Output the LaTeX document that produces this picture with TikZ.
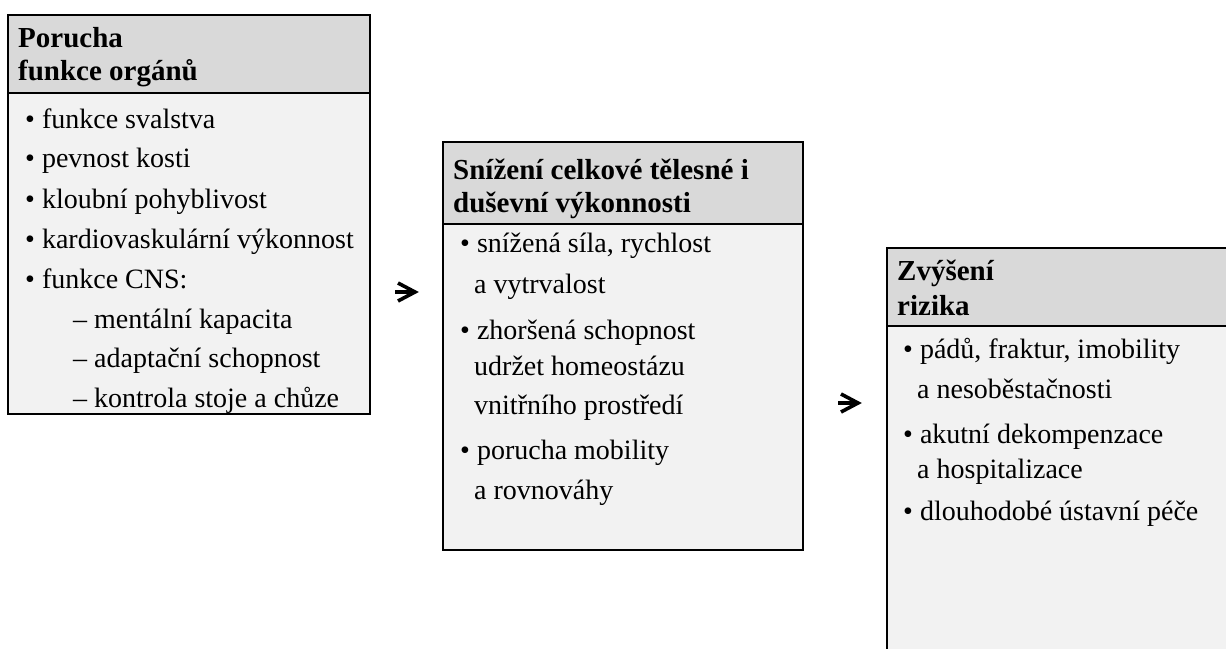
\documentclass[tikz,border=0pt]{standalone}
\usepackage{fontspec}
\setmainfont{Liberation Serif}
\definecolor{headgray}{HTML}{D9D9D9}
\definecolor{bodygray}{HTML}{F2F2F2}
\tikzset{
  headfill/.style={fill=headgray, draw=black, line width=2pt},
  bodyfill/.style={fill=bodygray, draw=black, line width=2pt},
  txt/.style={anchor=base west, inner sep=0pt, font=\fontsize{28}{33}\selectfont},
  headtxt/.style={anchor=base west, inner sep=0pt, font=\fontsize{29}{33}\selectfont\bfseries},
  glypharrow/.style={line width=3.6pt, line join=miter, line cap=butt}
}
\begin{document}
\begin{tikzpicture}[x=1pt,y=-1pt]
\clip (0,0) rectangle (1226,648);
\fill[white] (0,0) rectangle (1226,648);
% box 1
\draw[bodyfill] (8,93) rectangle (370,414);
\draw[headfill] (8,15) rectangle (370,93);
\node[headtxt] (h1a) at (18,47) {Porucha};
\node[headtxt] (h1b) at (18,80) {funkce orgánů};
\node[txt] (b1a) at (25,128) {• funkce svalstva};
\node[txt] (b1b) at (25,167) {• pevnost kosti};
\node[txt] (b1c) at (25,208) {• kloubní pohyblivost};
\node[txt] (b1d) at (25,248) {• kardiovaskulární výkonnost};
\node[txt] (b1e) at (25,288) {• funkce CNS:};
\node[txt] (b1f) at (73,328) {– mentální kapacita};
\node[txt] (b1g) at (73,367) {– adaptační schopnost};
\node[txt] (b1h) at (73,407) {– kontrola stoje a chůze};
% box 2
\draw[bodyfill] (443,224) rectangle (803,550);
\draw[headfill] (443,142) rectangle (803,224);
\node[headtxt] (h2a) at (453,179) {Snížení celkové tělesné i};
\node[headtxt] (h2b) at (453,212) {duševní výkonnosti};
\node[txt] (b2a) at (460,252) {• snížená síla, rychlost};
\node[txt] (b2b) at (474,293) {a vytrvalost};
\node[txt] (b2c) at (460,339) {• zhoršená schopnost};
\node[txt] (b2d) at (474,375) {udržet homeostázu};
\node[txt] (b2e) at (474,414) {vnitřního prostředí};
\node[txt] (b2f) at (460,459) {• porucha mobility};
\node[txt] (b2g) at (474,499) {a rovnováhy};
% box 3
\draw[bodyfill] (887,326) rectangle (1240,660);
\draw[headfill] (887,248) rectangle (1240,326);
\node[headtxt] (h3a) at (897,280) {Zvýšení};
\node[headtxt] (h3b) at (897,315) {rizika};
\node[txt] (b3a) at (903,358) {• pádů, fraktur, imobility};
\node[txt] (b3b) at (917,398) {a nesoběstačnosti};
\node[txt] (b3c) at (903,443) {• akutní dekompenzace};
\node[txt] (b3d) at (917,478) {a hospitalizace};
\node[txt] (b3e) at (903,520) {• dlouhodobé ústavní péče};
% arrows
\coordinate (a1s) at (395,292);
\coordinate (a1e) at (415,292);
\coordinate (a2s) at (838,403);
\coordinate (a2e) at (858,403);
\draw[glypharrow] (a1s) -- (a1e);
\draw[glypharrow] (a1e) ++(-17,-9) -- (a1e) -- ++(-17,9);
\draw[glypharrow] (a2s) -- (a2e);
\draw[glypharrow] (a2e) ++(-17,-9) -- (a2e) -- ++(-17,9);
\end{tikzpicture}
\end{document}
